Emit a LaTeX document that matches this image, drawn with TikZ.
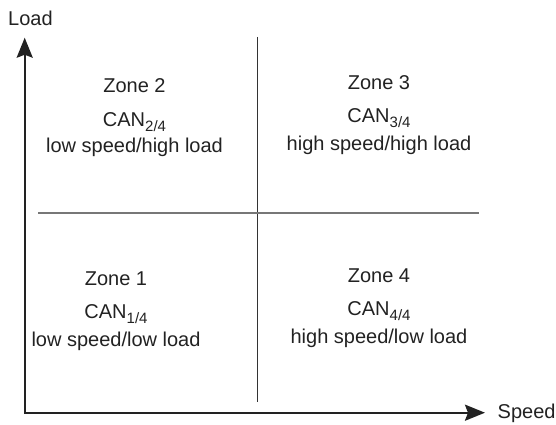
\documentclass[tikz,border=0pt]{standalone}
\usepackage{fontspec}
\setmainfont{Liberation Sans}
\usetikzlibrary{arrows.meta}
\definecolor{ink}{HTML}{222222}
\definecolor{divA}{HTML}{333333}
\definecolor{divB}{HTML}{777777}
\newcommand{\subt}[1]{\raisebox{-5.5pt}{\fontsize{15}{15}\selectfont #1}}
\tikzset{
  lbl/.style={anchor=base, inner sep=0pt, text=ink, font=\fontsize{20}{24}\selectfont},
  axisline/.style={line width=2.4pt, draw=ink, line join=miter,
     {Stealth[length=20pt,width=16pt,inset=3pt]}-{Stealth[length=20pt,width=16pt,inset=3pt]}},
}
\begin{document}
\begin{tikzpicture}[x=1pt,y=-1pt]
\useasboundingbox (0,0) rectangle (556,425);
% axes
\coordinate (ytip) at (24.7,37.7);
\coordinate (origin) at (24.7,412.7);
\coordinate (xtip) at (485,412.7);
\draw[axisline] (ytip) -- (origin) -- (xtip);
\node[lbl, anchor=base west] (load) at (8,26) {Load};
\node[lbl, anchor=base west] (speed) at (497.5,418) {Speed};
% dividers
\coordinate (vtop) at (257.5,37);
\coordinate (vbot) at (257.5,402);
\coordinate (hleft) at (38,213);
\coordinate (hright) at (479,213);
\draw[line width=1.3pt, divA] (vtop) -- (vbot);
\draw[line width=1.5pt, divB] (hleft) -- (hright);
% Zone 2
\node[lbl] (z2a) at (134.5,92.5) {Zone 2};
\node[lbl] (z2b) at (134.5,126) {CAN\subt{2/4}};
\node[lbl] (z2c) at (134.5,152) {low speed/high load};
% Zone 3
\node[lbl] (z3a) at (379,89.5) {Zone 3};
\node[lbl] (z3b) at (379,122) {CAN\subt{3/4}};
\node[lbl] (z3c) at (379,150) {high speed/high load};
% Zone 1
\node[lbl] (z1a) at (116,285) {Zone 1};
\node[lbl] (z1b) at (116,318) {CAN\subt{1/4}};
\node[lbl] (z1c) at (116,346) {low speed/low load};
% Zone 4
\node[lbl] (z4a) at (379,282) {Zone 4};
\node[lbl] (z4b) at (379,315) {CAN\subt{4/4}};
\node[lbl] (z4c) at (379,343) {high speed/low load};
\end{tikzpicture}
\end{document}
